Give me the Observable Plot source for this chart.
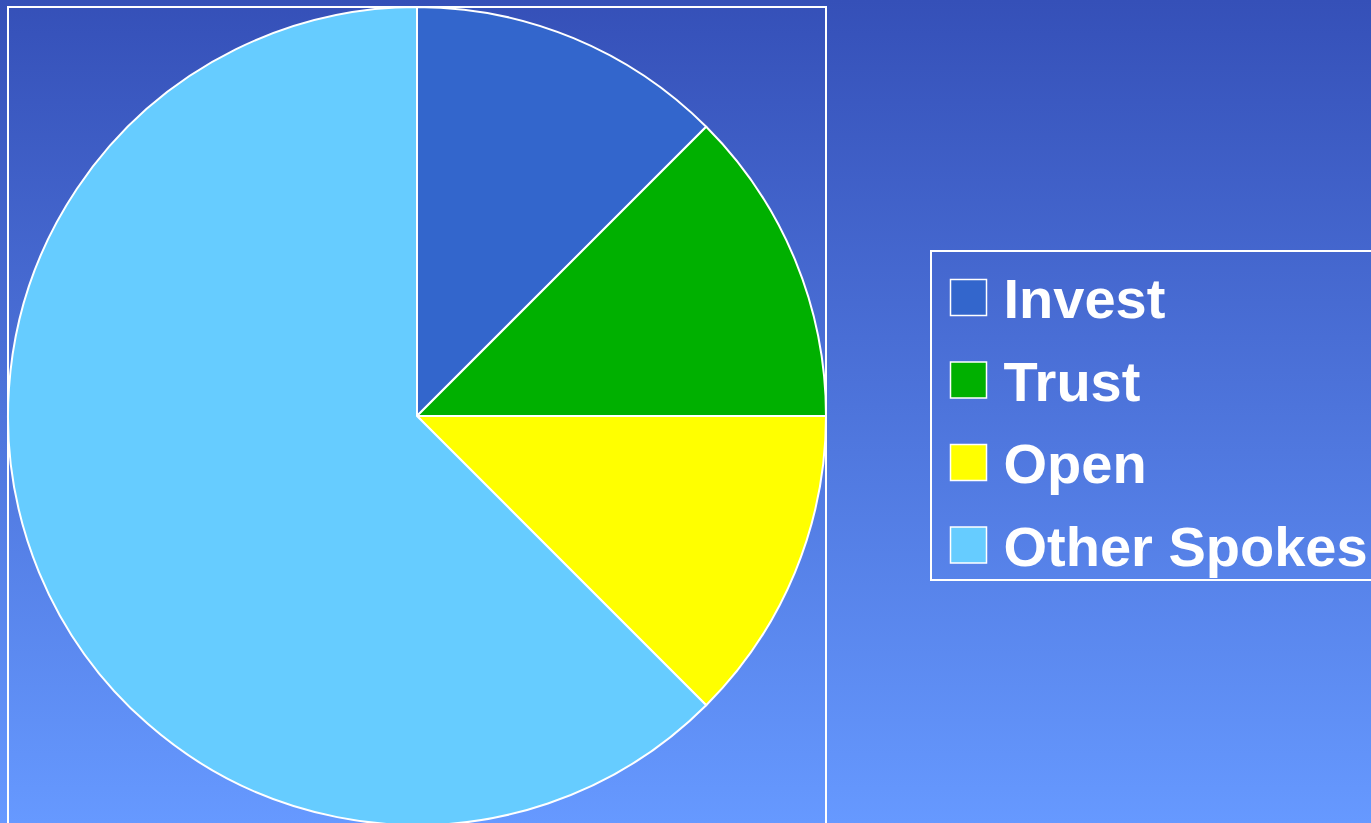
<!DOCTYPE html>
<html>
<head>
<meta charset="utf-8">
<script src="https://cdn.jsdelivr.net/npm/d3@7"></script>
<script src="https://cdn.jsdelivr.net/npm/@observablehq/plot@0.6"></script>
<style>
  html, body { margin: 0; padding: 0; }
  body { width: 1371px; height: 823px; overflow: hidden;
    background: linear-gradient(to bottom, #3550B8 0%, #6699FF 100%); }
  #chart { width: 1371px; height: 823px; }
</style>
</head>
<body>
<div id="chart"></div>
<script>
// Data
const categories = ["Invest", "Trust", "Open", "Other Spokes"];
const shares = [12.5, 12.5, 12.5, 62.5];
const colors = ["#3366CC", "#00B000", "#FFFF00", "#66CCFF"];

const rows = categories.map((c, i) => ({category: c, value: shares[i]}));

// Layout
const W = 1371, H = 823;
const cx = 417, cy = 416, R = 409;
const legend = {x: 931, y: 251, w: 460, h: 329, swatchX: 968, textX: 1003, row0: 297, step: 82.5};

const color = Plot.scale({color: {type: "ordinal", domain: categories, range: colors}});

function pieMark() {
  const g = d3.create("svg:g").attr("transform", `translate(${cx},${cy})`);
  const arcs = d3.pie().sort(null).value(d => d.value)(rows);
  const arc = d3.arc().innerRadius(0).outerRadius(R);
  g.selectAll("path").data(arcs).join("path")
    .attr("d", arc)
    .attr("fill", d => color.apply(d.data.category))
    .attr("stroke", "white")
    .attr("stroke-width", 2)
    .attr("stroke-linejoin", "round");
  return g.node();
}

const chart = Plot.plot({
  width: W,
  height: H,
  margin: 0,
  x: {type: "identity", axis: null},
  y: {type: "identity", axis: null},
  color: {type: "ordinal", domain: categories, range: colors},
  style: {background: "transparent", overflow: "hidden"},
  marks: [
    // pie frame
    Plot.rect([0], {x1: () => cx - R, x2: () => cx + R, y1: () => cy - R, y2: () => cy + R,
      fill: "none", stroke: "white", strokeWidth: 2}),
    pieMark,
    // legend box
    Plot.rect([0], {x1: () => legend.x, x2: () => legend.x + legend.w, y1: () => legend.y, y2: () => legend.y + legend.h,
      fill: "none", stroke: "white", strokeWidth: 2}),
    Plot.dot(rows, {x: () => legend.swatchX, y: (d, i) => legend.row0 + i * legend.step,
      symbol: "square", r: 36 / Math.sqrt(Math.PI), fill: "category", stroke: "white", strokeWidth: 1.5}),
    Plot.text(rows, {x: () => legend.textX, y: (d, i) => legend.row0 + i * legend.step + 3,
      text: "category", textAnchor: "start", lineAnchor: "middle", fill: "white",
      fontSize: 56, fontWeight: "bold", fontFamily: "Liberation Sans, Arial, sans-serif"})
  ]
});

document.getElementById("chart").appendChild(chart);
</script>
</body>
</html>
